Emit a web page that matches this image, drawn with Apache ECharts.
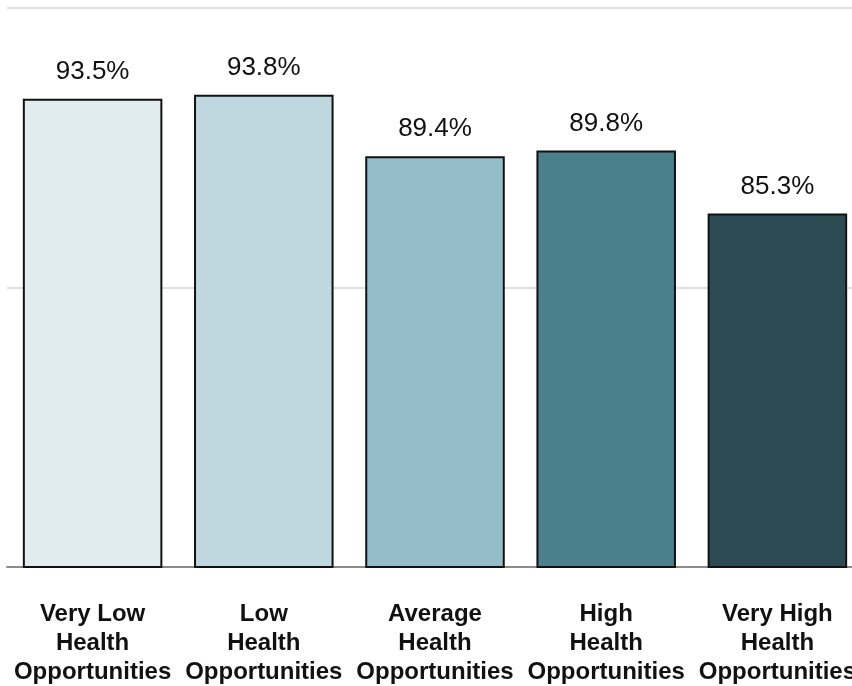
<!DOCTYPE html>
<html>
<head>
<meta charset="utf-8">
<script src="https://cdn.jsdelivr.net/npm/echarts@6/dist/echarts.min.js"></script>
<style>
  html, body { margin: 0; padding: 0; background: #fff; }
  #chart { width: 852px; height: 686px; }
</style>
</head>
<body>
<div id="chart"></div>
<script>
// Share by health-opportunity level
const categories = [
  'Very Low\nHealth\nOpportunities',
  'Low\nHealth\nOpportunities',
  'Average\nHealth\nOpportunities',
  'High\nHealth\nOpportunities',
  'Very High\nHealth\nOpportunities'
];
const values = [93.5, 93.8, 89.4, 89.8, 85.3];
const barColors = ['#e1ecee', '#bfd8df', '#95bcc9', '#4a7f8b', '#2c4b52'];

const fontStack = '"Liberation Sans Narrow", "Arial Narrow", "Liberation Sans", Arial, sans-serif';

const chart = echarts.init(document.getElementById('chart'), null, { renderer: 'canvas' });
chart.setOption({
  animation: false,
  // the last category runs slightly past the right edge of the canvas
  grid: { left: 7, top: 8, width: 856, height: 559, outerBoundsMode: 'none', containLabel: false },
  xAxis: {
    type: 'category',
    data: categories,
    axisLine: { show: true, lineStyle: { color: '#8c8c8c', width: 2 } },
    axisTick: { show: false },
    axisLabel: {
      interval: 0,
      margin: 33,
      color: '#111',
      fontFamily: fontStack,
      fontWeight: 'bold',
      fontSize: 24,
      lineHeight: 29
    }
  },
  yAxis: {
    type: 'value',
    min: 60,
    max: 100,
    interval: 20,
    axisLabel: { show: false },
    axisLine: { show: false },
    axisTick: { show: false },
    splitLine: { show: true, lineStyle: { color: '#e0e0e0', width: 2 } }
  },
  series: [{
    type: 'bar',
    data: values.map((v, i) => ({ value: v, itemStyle: { color: barColors[i] } })),
    barCategoryGap: '18.5%',
    itemStyle: { borderColor: '#111', borderWidth: 2 },
    label: {
      show: true,
      position: 'top',
      distance: 14,
      formatter: p => p.value.toFixed(1) + '%',
      color: '#111',
      fontFamily: fontStack,
      fontWeight: 500,
      fontSize: 26
    }
  }]
});
</script>
</body>
</html>
